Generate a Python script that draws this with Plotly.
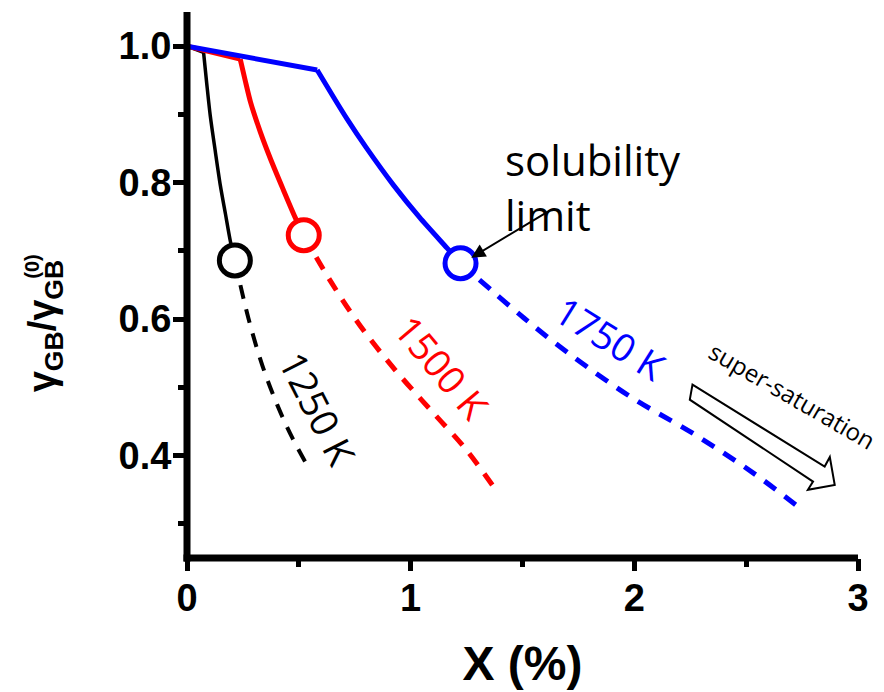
import plotly.graph_objects as go

# Solute content X (%) and normalised grain-boundary energy gamma_GB / gamma_GB^(0)
# Solid branches: equilibrium segregation up to the solubility limit
x_1250_sol = [0.0, 0.074, 0.088, 0.104, 0.126, 0.149, 0.172, 0.194, 0.214]
y_1250_sol = [1.0, 0.991, 0.946, 0.898, 0.847, 0.796, 0.754, 0.714, 0.686]
x_1500_sol = [0.0, 0.238, 0.260, 0.284, 0.328, 0.373, 0.430, 0.485, 0.522]
y_1500_sol = [1.0, 0.981, 0.950, 0.918, 0.874, 0.835, 0.790, 0.748, 0.723]
x_1750_sol = [0.0, 0.582, 0.650, 0.716, 0.800, 0.924, 1.040, 1.163, 1.223]
y_1750_sol = [1.0, 0.965, 0.928, 0.893, 0.852, 0.796, 0.749, 0.704, 0.682]

# Dashed branches: super-saturated solid solution
x_1250_sup = [0.214, 0.274, 0.337, 0.404, 0.471, 0.544]
y_1250_sup = [0.686, 0.602, 0.532, 0.474, 0.426, 0.382]
x_1500_sup = [0.522, 0.641, 0.775, 0.932, 1.089, 1.245, 1.365]
y_1500_sup = [0.723, 0.656, 0.590, 0.525, 0.467, 0.410, 0.357]
x_1750_sup = [1.223, 1.505, 1.702, 1.984, 2.265, 2.534, 2.729]
y_1750_sup = [0.682, 0.602, 0.551, 0.486, 0.432, 0.374, 0.326]

# Solubility limit for each temperature
temps = ["1250 K", "1500 K", "1750 K"]
x_limit = [0.214, 0.522, 1.223]
y_limit = [0.686, 0.723, 0.682]
colors = ["black", "red", "blue"]

x_ticks = [0, 1, 2, 3]
y_ticks = [0.4, 0.6, 0.8, 1.0]

AX_FONT = dict(family="Liberation Sans, Arial, sans-serif", color="black", weight="bold")
TXT_FONT = "Open Sans, Noto Sans, sans-serif"

fig = go.Figure()

series = [
    (x_1250_sol, y_1250_sol, x_1250_sup, y_1250_sup, 3.5, 4),
    (x_1500_sol, y_1500_sol, x_1500_sup, y_1500_sup, 5, 5),
    (x_1750_sol, y_1750_sol, x_1750_sup, y_1750_sup, 5, 5),
]
for (xs, ys, xd, yd, ws, wd), c, name in zip(series, colors, temps):
    # straight initial stretch, then the curved drop to the solubility limit
    fig.add_trace(go.Scatter(x=xs[:2], y=ys[:2], mode="lines", name=name,
                             line=dict(color=c, width=ws), showlegend=False))
    fig.add_trace(go.Scatter(x=xs[1:], y=ys[1:], mode="lines", name=name,
                             line=dict(color=c, width=ws, shape="spline", smoothing=0.8),
                             showlegend=False))
    fig.add_trace(go.Scatter(x=xd, y=yd, mode="lines", name=name,
                             line=dict(color=c, width=wd, dash="14px,11px", shape="spline"),
                             showlegend=False))

fig.add_trace(go.Scatter(
    x=x_limit, y=y_limit, mode="markers", showlegend=False,
    marker=dict(symbol="circle", size=31, color="white",
                line=dict(color=colors, width=5)),
))

# hollow block arrow pointing into the super-saturated region
arrow_pts = [(2.260, 0.504), (2.851, 0.384), (2.874, 0.398), (2.896, 0.357),
             (2.776, 0.350), (2.799, 0.362), (2.248, 0.482)]
path = "M " + " L ".join(f"{px},{py}" for px, py in arrow_pts) + " Z"
fig.add_shape(type="path", path=path, xref="x", yref="y",
              line=dict(color="black", width=2), fillcolor="white")

# thick axis lines centred on the plot edges
fig.add_shape(type="line", xref="paper", yref="paper", x0=-0.0052, x1=1.0, y0=0, y1=0,
              line=dict(color="black", width=7), layer="above")
fig.add_shape(type="line", xref="paper", yref="paper", x0=0, x1=0, y0=-0.0064, y1=1.0,
              line=dict(color="black", width=7), layer="above")

annotations = [
    dict(x=1.415, y=0.879, xref="x", yref="y", text="solubility<br>limit",
         showarrow=False, xanchor="left", yanchor="top", align="left",
         font=dict(family=TXT_FONT, size=42, color="black")),
    dict(x=1.271, y=0.690, ax=1.626, ay=0.760, xref="x", yref="y",
         axref="x", ayref="y", text="", showarrow=True, arrowhead=2,
         arrowsize=1.4, arrowwidth=2, arrowcolor="black"),
    dict(x=0.589, y=0.469, xref="x", yref="y", text="1250 K", textangle=63,
         showarrow=False, font=dict(family=TXT_FONT, size=38, color="black")),
    dict(x=1.141, y=0.530, xref="x", yref="y", text="1500 K", textangle=50,
         showarrow=False, font=dict(family=TXT_FONT, size=38, color="red")),
    dict(x=1.894, y=0.572, xref="x", yref="y", text="1750 K", textangle=32,
         showarrow=False, font=dict(family=TXT_FONT, size=38, color="blue")),
    dict(x=2.708, y=0.488, xref="x", yref="y", text="super-saturation", textangle=30,
         showarrow=False, font=dict(family=TXT_FONT, size=24, color="black")),
    # y-axis title, with the (0) superscript stacked over the second subscript
    dict(x=-0.2120, y=0.4256, xref="paper", yref="paper",
         text="γ<sub>GB</sub>/γ<sub>GB</sub>", textangle=-90, showarrow=False,
         xanchor="center", yanchor="middle", font=dict(size=38, **AX_FONT)),
    dict(x=-0.2305, y=0.534, xref="paper", yref="paper", text="(0)", textangle=-90,
         showarrow=False, xanchor="center", yanchor="middle",
         font=dict(size=20, **AX_FONT)),
]

axis_common = dict(
    showline=False, ticks="outside", tickwidth=5, tickcolor="black",
    showgrid=False, zeroline=False, tickfont=dict(size=38, **AX_FONT),
)
minor_common = dict(ticks="outside", ticklen=8, tickwidth=5, tickcolor="black",
                    showgrid=False)

fig.update_layout(
    width=884, height=692,
    margin=dict(l=187, r=26, t=12, b=129),
    paper_bgcolor="white", plot_bgcolor="white",
    xaxis=dict(range=[0, 3], tickvals=x_ticks, ticktext=[str(v) for v in x_ticks],
               ticklen=12, ticklabelstandoff=-6,
               minor=dict(tickvals=[0.5, 1.5, 2.5], **minor_common),
               title=dict(text="X (%)", font=dict(size=48, **AX_FONT), standoff=28),
               **axis_common),
    yaxis=dict(range=[0.25, 1.05], tickvals=y_ticks,
               ticktext=[f"{v:.1f}" for v in y_ticks],
               ticklen=13, ticklabelstandoff=-6,
               minor=dict(tickvals=[0.3, 0.5, 0.7, 0.9], **minor_common),
               **axis_common),
    annotations=annotations,
)

fig.write_html("out.html")
